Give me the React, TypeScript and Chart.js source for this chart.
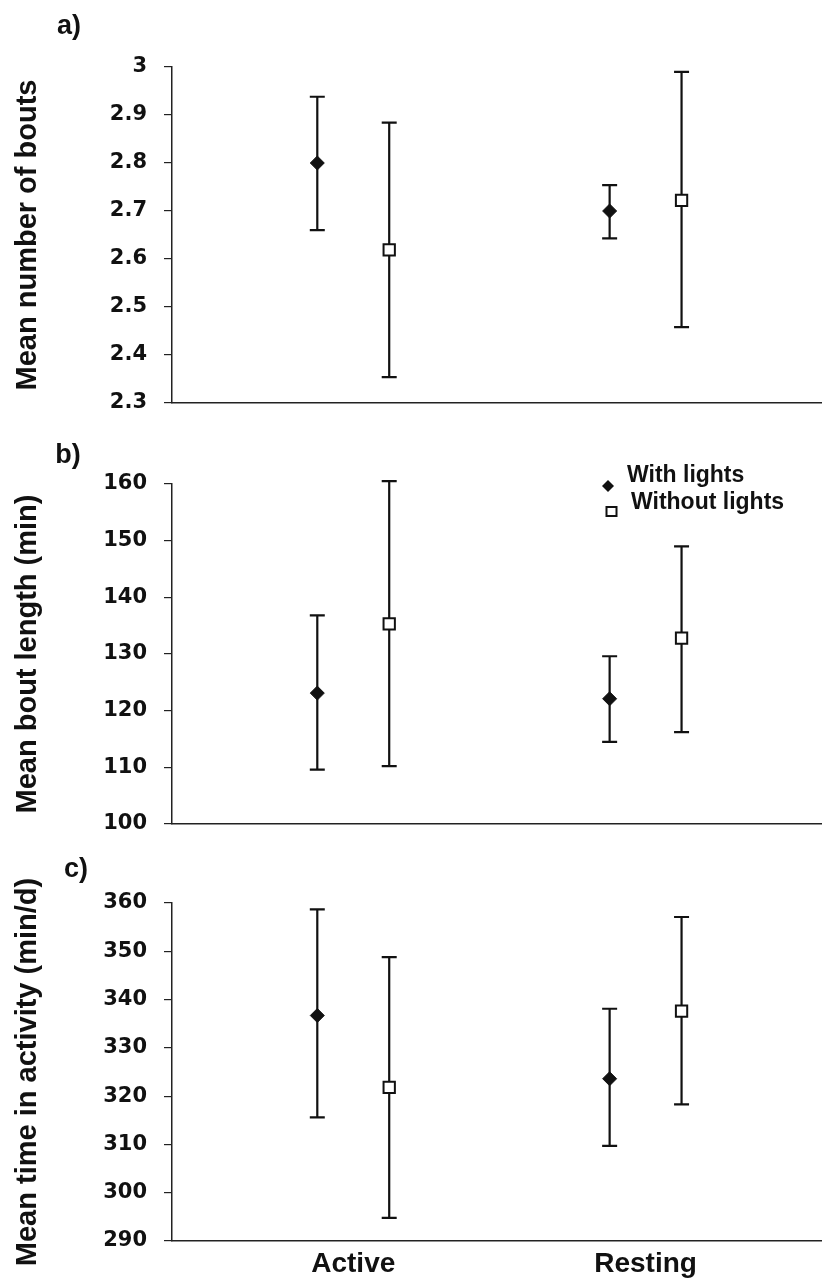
import React, { useEffect, useRef } from 'react';
import { Chart, registerables } from 'chart.js';

Chart.register(...registerables);

// ---------- data ----------
const categories = ['Active', 'Resting'];
const categoryPos = [1, 2];
const groupOffset = 0.123;
const seriesNames = ['With lights', 'Without lights'];

// a) Mean number of bouts
const boutsWithMean = [2.8, 2.7];
const boutsWithLow = [2.66, 2.643];
const boutsWithHigh = [2.938, 2.754];
const boutsWithoutMean = [2.619, 2.722];
const boutsWithoutLow = [2.354, 2.458];
const boutsWithoutHigh = [2.884, 2.99];
const boutsTicks = [2.3, 2.4, 2.5, 2.6, 2.7, 2.8, 2.9, 3];

// b) Mean bout length (min)
const lengthWithMean = [123.1, 122.1];
const lengthWithLow = [109.6, 114.5];
const lengthWithHigh = [136.8, 129.6];
const lengthWithoutMean = [135.3, 132.8];
const lengthWithoutLow = [110.2, 116.2];
const lengthWithoutHigh = [160.5, 149.0];
const lengthTicks = [100, 110, 120, 130, 140, 150, 160];

// c) Mean time in activity (min/d)
const timeWithMean = [336.7, 323.6];
const timeWithLow = [315.6, 309.7];
const timeWithHigh = [358.7, 338.1];
const timeWithoutMean = [321.8, 337.6];
const timeWithoutLow = [294.8, 318.3];
const timeWithoutHigh = [348.8, 357.1];
const timeTicks = [290, 300, 310, 320, 330, 340, 350, 360];

// ---------- styling ----------
const INK = '#111';
const SANS = '"Liberation Sans", Arial, Helvetica, sans-serif';
const TICK_FONT = '"DejaVu Sans", sans-serif';

const errorBarPlugin = {
  id: 'errorBars',
  beforeDatasetsDraw(chart: any) {
    const ctx = chart.ctx;
    const ys = chart.scales.y;
    const cap = 7.5;
    chart.data.datasets.forEach((ds: any, di: number) => {
      const meta = chart.getDatasetMeta(di);
      meta.data.forEach((pt: any, i: number) => {
        const x = pt.x;
        const yl = ys.getPixelForValue(ds.errLow[i]);
        const yh = ys.getPixelForValue(ds.errHigh[i]);
        ctx.save();
        ctx.strokeStyle = INK;
        ctx.lineWidth = 2.2;
        ctx.beginPath();
        ctx.moveTo(x, yl);
        ctx.lineTo(x, yh);
        ctx.moveTo(x - cap, yl);
        ctx.lineTo(x + cap, yl);
        ctx.moveTo(x - cap, yh);
        ctx.lineTo(x + cap, yh);
        ctx.stroke();
        ctx.restore();
      });
    });
  },
};

const panelTextPlugin = {
  id: 'panelText',
  afterDraw(chart: any, _args: any, opts: any) {
    const ctx = chart.ctx;
    ctx.save();
    ctx.fillStyle = INK;
    ctx.textBaseline = 'middle';
    ctx.textAlign = 'center';
    ctx.font = `bold 27px ${SANS}`;
    ctx.fillText(opts.label, opts.lx, opts.ly);
    if (opts.legend) {
      const ca = chart.chartArea;
      const lx = ca.right - 213;
      const ly = ca.top;
      // diamond
      ctx.beginPath();
      const dx = lx, dy = ly + 2;
      ctx.moveTo(dx, dy - 6);
      ctx.lineTo(dx + 6, dy);
      ctx.lineTo(dx, dy + 6);
      ctx.lineTo(dx - 6, dy);
      ctx.closePath();
      ctx.fill();
      // square
      ctx.fillStyle = '#fff';
      ctx.strokeStyle = INK;
      ctx.lineWidth = 2;
      ctx.fillRect(lx - 1.5, ly + 23, 10, 9);
      ctx.strokeRect(lx - 1.5, ly + 23, 10, 9);
      ctx.fillStyle = INK;
      ctx.textAlign = 'left';
      ctx.font = `bold 23px ${SANS}`;
      ctx.fillText(seriesNames[0], lx + 19, ly - 8);
      ctx.fillText(seriesNames[1], lx + 23, ly + 19);
    }
    ctx.restore();
  },
};

type PanelSpec = {
  top: number;
  height: number;
  padTop: number;
  xHeight: number;
  yMin: number;
  yMax: number;
  ticks: number[];
  title: string;
  label: string;
  lx: number;
  ly: number;
  legend: boolean;
  showCats: boolean;
  withMean: number[];
  withLow: number[];
  withHigh: number[];
  withoutMean: number[];
  withoutLow: number[];
  withoutHigh: number[];
};

const panels: PanelSpec[] = [
  {
    top: 0, height: 420, padTop: 67, xHeight: 17,
    yMin: 2.3, yMax: 3, ticks: boutsTicks,
    title: 'Mean number of bouts', label: 'a)', lx: 69, ly: 27,
    legend: false, showCats: false,
    withMean: boutsWithMean, withLow: boutsWithLow, withHigh: boutsWithHigh,
    withoutMean: boutsWithoutMean, withoutLow: boutsWithoutLow, withoutHigh: boutsWithoutHigh,
  },
  {
    top: 420, height: 420, padTop: 64, xHeight: 16,
    yMin: 100, yMax: 160, ticks: lengthTicks,
    title: 'Mean bout length (min)', label: 'b)', lx: 68, ly: 36,
    legend: true, showCats: false,
    withMean: lengthWithMean, withLow: lengthWithLow, withHigh: lengthWithHigh,
    withoutMean: lengthWithoutMean, withoutLow: lengthWithoutLow, withoutHigh: lengthWithoutHigh,
  },
  {
    top: 840, height: 446, padTop: 63, xHeight: 45,
    yMin: 290, yMax: 360, ticks: timeTicks,
    title: 'Mean time in activity (min/d)', label: 'c)', lx: 76, ly: 30,
    legend: false, showCats: true,
    withMean: timeWithMean, withLow: timeWithLow, withHigh: timeWithHigh,
    withoutMean: timeWithoutMean, withoutLow: timeWithoutLow, withoutHigh: timeWithoutHigh,
  },
];

function buildConfig(p: PanelSpec): any {
  return {
    type: 'scatter',
    data: {
      datasets: [
        {
          label: seriesNames[0],
          data: categoryPos.map((c, i) => ({ x: c - groupOffset, y: p.withMean[i] })),
          errLow: p.withLow,
          errHigh: p.withHigh,
          pointStyle: 'rectRot',
          pointRadius: 7,
          pointBackgroundColor: INK,
          pointBorderColor: INK,
          pointBorderWidth: 1,
          showLine: false,
          clip: false,
        },
        {
          label: seriesNames[1],
          data: categoryPos.map((c, i) => ({ x: c + groupOffset, y: p.withoutMean[i] })),
          errLow: p.withoutLow,
          errHigh: p.withoutHigh,
          pointStyle: 'rect',
          pointRadius: 8,
          pointBackgroundColor: '#fff',
          pointBorderColor: INK,
          pointBorderWidth: 2,
          showLine: false,
          clip: false,
        },
      ],
    },
    options: {
      responsive: false,
      animation: false,
      devicePixelRatio: 1,
      layout: { autoPadding: false, padding: { top: p.padTop, right: 1, left: 0, bottom: 0 } },
      plugins: {
        legend: { display: false },
        tooltip: { enabled: false },
        panelText: { label: p.label, lx: p.lx, ly: p.ly, legend: p.legend },
      },
      scales: {
        x: {
          type: 'linear',
          min: 0.38,
          max: 2.6,
          afterBuildTicks: (s: any) => {
            s.ticks = categoryPos.map((v) => ({ value: v }));
          },
          afterFit: (s: any) => {
            s.height = p.xHeight;
            s.paddingLeft = 0;
            s.paddingRight = 0;
          },
          ticks: {
            display: p.showCats,
            autoSkip: false,
            maxRotation: 0,
            padding: 6,
            color: INK,
            font: { family: SANS, size: 28, weight: 'bold' },
            callback: (v: any) => {
              const idx = categoryPos.indexOf(Number(v));
              return idx >= 0 ? categories[idx] : '';
            },
          },
          grid: { display: false, drawTicks: false },
          border: { display: true, color: '#222', width: 1.5 },
        },
        y: {
          type: 'linear',
          min: p.yMin,
          max: p.yMax,
          afterBuildTicks: (s: any) => {
            s.ticks = p.ticks.map((v) => ({ value: v }));
          },
          afterFit: (s: any) => {
            s.width = 172;
            s.paddingTop = 0;
            s.paddingBottom = 0;
          },
          ticks: {
            autoSkip: false,
            padding: 17,
            color: INK,
            font: { family: TICK_FONT, size: 21, weight: 'bold' },
            callback: (v: any) => String(v),
          },
          grid: {
            display: true,
            drawOnChartArea: false,
            drawTicks: true,
            tickLength: 8,
            color: '#222',
            lineWidth: 1.2,
          },
          border: { display: true, color: '#222', width: 1.5 },
          title: {
            display: true,
            text: p.title,
            color: INK,
            font: { family: SANS, size: 29, weight: 'bold' },
            padding: { top: 11, bottom: 0 },
          },
        },
      },
    },
    plugins: [errorBarPlugin, panelTextPlugin],
  };
}

function Panel({ spec }: { spec: PanelSpec }) {
  const ref = useRef<HTMLCanvasElement | null>(null);
  useEffect(() => {
    if (!ref.current) return;
    const chart = new Chart(ref.current, buildConfig(spec));
    return () => chart.destroy();
  }, [spec]);
  return (
    <canvas
      ref={ref}
      width={822}
      height={spec.height}
      style={{ position: 'absolute', left: 0, top: spec.top, width: 822, height: spec.height }}
    />
  );
}

export default function App() {
  return (
    <div style={{ position: 'absolute', left: 0, top: 0, width: 822, height: 1286, background: '#fff' }}>
      {panels.map((p) => (
        <Panel key={p.label} spec={p} />
      ))}
    </div>
  );
}
